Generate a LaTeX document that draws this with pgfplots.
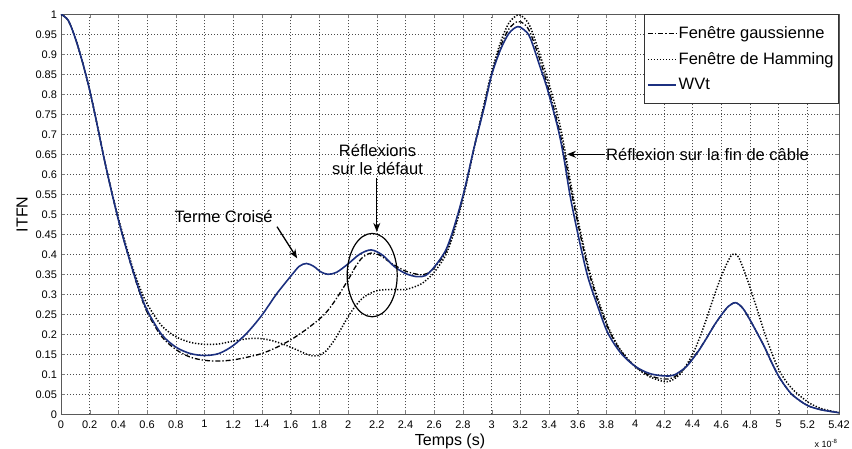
\documentclass[border=0pt]{standalone}
\usepackage{fontspec}
\setmainfont{Liberation Sans}
\usepackage{pgfplots}
\pgfplotsset{compat=1.18}
\usetikzlibrary{arrows.meta}
\definecolor{wvt}{RGB}{28,48,128}

\begin{document}
\begin{tikzpicture}
\useasboundingbox (-61pt,-34.7pt) rectangle (791pt,414.3pt);
\begin{axis}[
  at={(0pt,0pt)}, anchor=south west,
  scale only axis, width=778pt, height=400pt,
  xmin=0, xmax=5.42, ymin=0, ymax=1,
  xtick={0,0.2,0.4,0.6,0.8,1,1.2,1.4,1.6,1.8,2,2.2,2.4,2.6,2.8,3,3.2,3.4,3.6,3.8,4,4.2,4.4,4.6,4.8,5,5.2,5.42},
  ytick={0,0.05,0.1,0.15,0.2,0.25,0.3,0.35,0.4,0.45,0.5,0.55,0.6,0.65,0.7,0.75,0.8,0.85,0.9,0.95,1},
  scaled ticks=false,
  /pgf/number format/fixed, /pgf/number format/precision=2,
  /pgf/number format/assume math mode=true,
  tick label style={font=\fontsize{11}{12}\selectfont},
  xticklabel style={yshift=-2.5pt},
  yticklabel style={xshift=-0.5pt},
  tick align=inside, major tick length=4pt,
  axis line style={gray!70!black, line width=0.6pt},
  grid=major,
  major grid style={black!70, line width=0.55pt, dash pattern=on 1pt off 2pt},
  xlabel={Temps (s)}, ylabel={ITFN},
  every axis x label/.style={at={(axis description cs:0.5,-0.0668)}, anchor=center, font=\fontsize{16}{18}\selectfont},
  every axis y label/.style={at={(axis description cs:-0.0501,0.5)}, rotate=90, anchor=center, font=\fontsize{16}{18}\selectfont},
  legend style={at={(rel axis cs:1,1)}, anchor=north east, draw=black!80, line width=0.6pt,
    fill=white, font=\fontsize{16.5}{18}\selectfont, row sep=8.5pt,
    inner xsep=3pt, inner ysep=10pt, legend cell align=left},
  legend image code/.code={\draw[#1] (0pt,0pt) -- (28pt,0pt);},
]
\addplot[black, line width=1.3pt, dash pattern=on 5pt off 2pt on 1.3pt off 2pt, smooth, tension=0.5] coordinates {
(0.00,1.000) (0.05,0.985) (0.10,0.940) (0.15,0.880) (0.20,0.810) (0.25,0.727) (0.30,0.640)
(0.35,0.560) (0.40,0.486) (0.45,0.420) (0.50,0.358) (0.55,0.302) (0.60,0.255) (0.70,0.195)
(0.80,0.162) (0.90,0.143) (1.00,0.135) (1.10,0.133) (1.20,0.136) (1.30,0.143) (1.40,0.152)
(1.50,0.167) (1.60,0.186) (1.70,0.210) (1.80,0.238) (1.86,0.260) (1.92,0.290) (2.00,0.336)
(2.05,0.368) (2.10,0.392) (2.16,0.403) (2.22,0.398) (2.30,0.378) (2.40,0.358) (2.50,0.349)
(2.55,0.352) (2.60,0.366) (2.68,0.405) (2.74,0.465) (2.81,0.558) (2.88,0.670) (2.95,0.775)
(3.00,0.850) (3.06,0.918) (3.12,0.963) (3.18,0.982) (3.23,0.975) (3.27,0.953) (3.34,0.882)
(3.39,0.822) (3.46,0.728) (3.50,0.662) (3.56,0.548) (3.62,0.445) (3.68,0.352) (3.75,0.272)
(3.82,0.208) (3.90,0.158) (4.00,0.120) (4.10,0.097) (4.20,0.088) (4.26,0.091) (4.32,0.106)
(4.40,0.140) (4.45,0.164) (4.50,0.192) (4.55,0.222) (4.60,0.248) (4.65,0.270) (4.70,0.279)
(4.75,0.265) (4.80,0.236) (4.85,0.203) (4.90,0.169) (4.95,0.130) (5.00,0.095) (5.05,0.068)
(5.10,0.047) (5.20,0.022) (5.30,0.011) (5.42,0.004)
};
\addlegendentry{Fenêtre gaussienne}
\addplot[black, line width=1.5pt, dash pattern=on 1.3pt off 1.7pt, smooth, tension=0.5] coordinates {
(0.00,1.000) (0.05,0.985) (0.10,0.940) (0.15,0.880) (0.20,0.810) (0.25,0.727) (0.30,0.640)
(0.35,0.562) (0.40,0.490) (0.45,0.426) (0.50,0.366) (0.55,0.316) (0.60,0.276) (0.70,0.222)
(0.80,0.194) (0.90,0.180) (1.00,0.175) (1.10,0.176) (1.20,0.183) (1.30,0.189) (1.36,0.190)
(1.45,0.186) (1.55,0.175) (1.65,0.160) (1.72,0.149) (1.78,0.146) (1.84,0.156) (1.90,0.183)
(1.95,0.213) (2.00,0.244) (2.05,0.270) (2.11,0.293) (2.20,0.309) (2.30,0.312) (2.40,0.312)
(2.50,0.324) (2.55,0.337) (2.60,0.355) (2.68,0.398) (2.74,0.458) (2.81,0.553) (2.88,0.668)
(2.95,0.780) (3.00,0.856) (3.06,0.928) (3.12,0.978) (3.18,0.998) (3.22,0.993) (3.27,0.968)
(3.34,0.895) (3.39,0.838) (3.46,0.748) (3.50,0.680) (3.56,0.560) (3.62,0.455) (3.68,0.360)
(3.75,0.278) (3.82,0.212) (3.90,0.160) (4.00,0.119) (4.10,0.094) (4.20,0.082) (4.25,0.084)
(4.32,0.103) (4.40,0.150) (4.45,0.192) (4.50,0.242) (4.55,0.296) (4.60,0.345) (4.65,0.385)
(4.68,0.400) (4.72,0.393) (4.78,0.338) (4.85,0.262) (4.90,0.205) (4.95,0.155) (5.00,0.112)
(5.05,0.083) (5.11,0.058) (5.21,0.029) (5.30,0.014) (5.42,0.004)
};
\addlegendentry{Fenêtre de Hamming}
\addplot[wvt, line width=1.6pt, smooth, tension=0.5] coordinates {
(0.00,1.000) (0.05,0.985) (0.10,0.940) (0.15,0.880) (0.20,0.810) (0.25,0.727) (0.30,0.640)
(0.35,0.560) (0.40,0.486) (0.45,0.420) (0.50,0.360) (0.55,0.305) (0.60,0.260) (0.70,0.200)
(0.80,0.168) (0.90,0.152) (1.00,0.147) (1.10,0.152) (1.20,0.172) (1.30,0.205) (1.40,0.248)
(1.50,0.300) (1.60,0.345) (1.66,0.370) (1.71,0.377) (1.76,0.370) (1.81,0.356) (1.86,0.350)
(1.92,0.355) (2.00,0.376) (2.08,0.400) (2.16,0.411) (2.24,0.398) (2.32,0.370) (2.40,0.352)
(2.48,0.344) (2.54,0.347) (2.60,0.368) (2.68,0.410) (2.74,0.470) (2.81,0.560) (2.88,0.670)
(2.95,0.770) (3.00,0.848) (3.06,0.910) (3.12,0.952) (3.18,0.969) (3.23,0.960) (3.27,0.940)
(3.34,0.866) (3.39,0.811) (3.46,0.718) (3.50,0.648) (3.55,0.540) (3.61,0.436) (3.67,0.344)
(3.74,0.269) (3.81,0.203) (3.90,0.153) (4.00,0.120) (4.10,0.102) (4.20,0.096) (4.27,0.098)
(4.35,0.117) (4.40,0.138) (4.45,0.163) (4.50,0.192) (4.55,0.222) (4.60,0.248) (4.65,0.270)
(4.70,0.279) (4.75,0.265) (4.80,0.236) (4.85,0.203) (4.90,0.169) (4.95,0.130) (5.00,0.095)
(5.05,0.068) (5.10,0.047) (5.20,0.022) (5.30,0.011) (5.42,0.004)
};
\addlegendentry{WVt}

% annotations
\draw[black, line width=1.2pt] (axis cs:2.168,0.348) ellipse [x radius=25pt, y radius=41.7pt];
\draw[black, line width=1.3pt, -{Stealth[length=9pt,width=7pt]}] (axis cs:2.2,0.590) -- (axis cs:2.2,0.456);
\node[font=\fontsize{16.5}{18}\selectfont, align=center, anchor=south] at (axis cs:2.205,0.590) {Réflexions\\sur le défaut};
\node[font=\fontsize{16.5}{18}\selectfont] at (axis cs:1.133,0.494) {Terme Croisé};
\draw[black, line width=1.3pt, -{Stealth[length=9pt,width=7pt]}] (axis cs:1.505,0.469) -- (axis cs:1.645,0.390);
\node[font=\fontsize{16.5}{18}\selectfont, anchor=west, inner sep=1pt] at (axis cs:3.79,0.650) {Réflexion sur la fin de câble};
\draw[black, line width=1.3pt, -{Stealth[length=9pt,width=7pt]}] (axis cs:3.79,0.650) -- (axis cs:3.525,0.650);
\end{axis}
\node[font=\fontsize{9}{10}\selectfont, anchor=center] at (765pt,-29pt) {x 10\textsuperscript{-8}};
\end{tikzpicture}
\end{document}
